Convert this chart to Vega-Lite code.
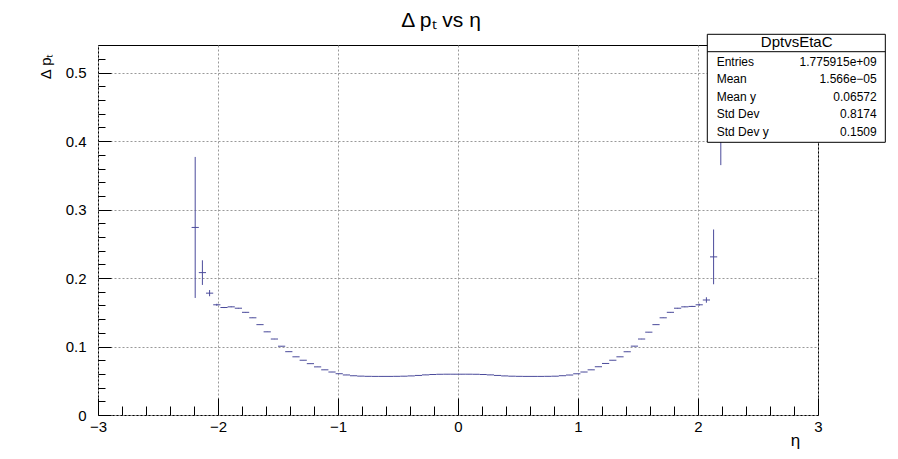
{
  "$schema": "https://vega.github.io/schema/vega-lite/v6.json",
  "width": 720,
  "height": 370,
  "autosize": {"type": "none"},
  "padding": {"left": 98, "top": 45, "right": 80, "bottom": 44},
  "background": "white",
  "title": {"text": "Δ pₜ vs   η", "fontSize": 21, "font": "Liberation Sans", "fontWeight": "normal", "color": "black", "anchor": "middle", "offset": 3, "dx": -17},
  "config": {"view": {"stroke": "black", "strokeWidth": 1}, "font": "Liberation Sans"},
  "datasets": {
    "prof": [
      {"eta": -2.19, "mean": 0.274, "lo": 0.171, "hi": 0.377},
      {"eta": -2.13, "mean": 0.208, "lo": 0.190, "hi": 0.226},
      {"eta": -2.07, "mean": 0.178, "lo": 0.1735, "hi": 0.1825},
      {"eta": -2.01, "mean": 0.161, "lo": 0.1595, "hi": 0.1625},
      {"eta": -1.95, "mean": 0.157, "lo": 0.1562, "hi": 0.1578},
      {"eta": -1.89, "mean": 0.158, "lo": 0.1575, "hi": 0.1585},
      {"eta": -1.83, "mean": 0.156, "lo": 0.1556, "hi": 0.1564},
      {"eta": -1.77, "mean": 0.150, "lo": 0.1497, "hi": 0.1503},
      {"eta": -1.71, "mean": 0.142, "lo": 0.1417, "hi": 0.1423},
      {"eta": -1.65, "mean": 0.132, "lo": 0.1318, "hi": 0.1322},
      {"eta": -1.59, "mean": 0.1215, "lo": 0.1213, "hi": 0.1217},
      {"eta": -1.53, "mean": 0.111, "lo": 0.1108, "hi": 0.1112},
      {"eta": -1.47, "mean": 0.1005, "lo": 0.1003, "hi": 0.1007},
      {"eta": -1.41, "mean": 0.0925, "lo": 0.0923, "hi": 0.0927},
      {"eta": -1.35, "mean": 0.085, "lo": 0.0849, "hi": 0.0851},
      {"eta": -1.29, "mean": 0.080, "lo": 0.0799, "hi": 0.0801},
      {"eta": -1.23, "mean": 0.075, "lo": 0.0749, "hi": 0.0751},
      {"eta": -1.17, "mean": 0.0703, "lo": 0.0702, "hi": 0.0704},
      {"eta": -1.11, "mean": 0.066, "lo": 0.0659, "hi": 0.0661},
      {"eta": -1.05, "mean": 0.0628, "lo": 0.0627, "hi": 0.0629},
      {"eta": -0.99, "mean": 0.0603, "lo": 0.0602, "hi": 0.0604},
      {"eta": -0.93, "mean": 0.0585, "lo": 0.0584, "hi": 0.0586},
      {"eta": -0.87, "mean": 0.0575, "lo": 0.0574, "hi": 0.0576},
      {"eta": -0.81, "mean": 0.0568, "lo": 0.0567, "hi": 0.0569},
      {"eta": -0.75, "mean": 0.0565, "lo": 0.0564, "hi": 0.0566},
      {"eta": -0.69, "mean": 0.0564, "lo": 0.0563, "hi": 0.0565},
      {"eta": -0.63, "mean": 0.0564, "lo": 0.0563, "hi": 0.0565},
      {"eta": -0.57, "mean": 0.0564, "lo": 0.0563, "hi": 0.0565},
      {"eta": -0.51, "mean": 0.0565, "lo": 0.0564, "hi": 0.0566},
      {"eta": -0.45, "mean": 0.0567, "lo": 0.0566, "hi": 0.0568},
      {"eta": -0.39, "mean": 0.0571, "lo": 0.0570, "hi": 0.0572},
      {"eta": -0.33, "mean": 0.0578, "lo": 0.0577, "hi": 0.0579},
      {"eta": -0.27, "mean": 0.0586, "lo": 0.0585, "hi": 0.0587},
      {"eta": -0.21, "mean": 0.0592, "lo": 0.0591, "hi": 0.0593},
      {"eta": -0.15, "mean": 0.0595, "lo": 0.0594, "hi": 0.0596},
      {"eta": -0.09, "mean": 0.0596, "lo": 0.0595, "hi": 0.0597},
      {"eta": -0.03, "mean": 0.0596, "lo": 0.0595, "hi": 0.0597},
      {"eta": 0.03, "mean": 0.0596, "lo": 0.0595, "hi": 0.0597},
      {"eta": 0.09, "mean": 0.0596, "lo": 0.0595, "hi": 0.0597},
      {"eta": 0.15, "mean": 0.0595, "lo": 0.0594, "hi": 0.0596},
      {"eta": 0.21, "mean": 0.0592, "lo": 0.0591, "hi": 0.0593},
      {"eta": 0.27, "mean": 0.0586, "lo": 0.0585, "hi": 0.0587},
      {"eta": 0.33, "mean": 0.0578, "lo": 0.0577, "hi": 0.0579},
      {"eta": 0.39, "mean": 0.0571, "lo": 0.0570, "hi": 0.0572},
      {"eta": 0.45, "mean": 0.0567, "lo": 0.0566, "hi": 0.0568},
      {"eta": 0.51, "mean": 0.0565, "lo": 0.0564, "hi": 0.0566},
      {"eta": 0.57, "mean": 0.0564, "lo": 0.0563, "hi": 0.0565},
      {"eta": 0.63, "mean": 0.0564, "lo": 0.0563, "hi": 0.0565},
      {"eta": 0.69, "mean": 0.0564, "lo": 0.0563, "hi": 0.0565},
      {"eta": 0.75, "mean": 0.0565, "lo": 0.0564, "hi": 0.0566},
      {"eta": 0.81, "mean": 0.0567, "lo": 0.0566, "hi": 0.0568},
      {"eta": 0.87, "mean": 0.0574, "lo": 0.0573, "hi": 0.0575},
      {"eta": 0.93, "mean": 0.0584, "lo": 0.0583, "hi": 0.0585},
      {"eta": 0.99, "mean": 0.0602, "lo": 0.0601, "hi": 0.0603},
      {"eta": 1.05, "mean": 0.0628, "lo": 0.0627, "hi": 0.0629},
      {"eta": 1.11, "mean": 0.066, "lo": 0.0659, "hi": 0.0661},
      {"eta": 1.17, "mean": 0.0705, "lo": 0.0704, "hi": 0.0706},
      {"eta": 1.23, "mean": 0.0753, "lo": 0.0752, "hi": 0.0754},
      {"eta": 1.29, "mean": 0.080, "lo": 0.0799, "hi": 0.0801},
      {"eta": 1.35, "mean": 0.085, "lo": 0.0849, "hi": 0.0851},
      {"eta": 1.41, "mean": 0.0924, "lo": 0.0922, "hi": 0.0926},
      {"eta": 1.47, "mean": 0.1006, "lo": 0.1004, "hi": 0.1008},
      {"eta": 1.53, "mean": 0.111, "lo": 0.1108, "hi": 0.1112},
      {"eta": 1.59, "mean": 0.121, "lo": 0.1208, "hi": 0.1212},
      {"eta": 1.65, "mean": 0.132, "lo": 0.1318, "hi": 0.1322},
      {"eta": 1.71, "mean": 0.142, "lo": 0.1417, "hi": 0.1423},
      {"eta": 1.77, "mean": 0.150, "lo": 0.1497, "hi": 0.1503},
      {"eta": 1.83, "mean": 0.156, "lo": 0.1556, "hi": 0.1564},
      {"eta": 1.89, "mean": 0.158, "lo": 0.1575, "hi": 0.1585},
      {"eta": 1.95, "mean": 0.1586, "lo": 0.1578, "hi": 0.1594},
      {"eta": 2.01, "mean": 0.161, "lo": 0.1595, "hi": 0.1625},
      {"eta": 2.07, "mean": 0.168, "lo": 0.164, "hi": 0.172},
      {"eta": 2.13, "mean": 0.231, "lo": 0.191, "hi": 0.271},
      {"eta": 2.19, "mean": 0.46, "lo": 0.365, "hi": 0.555}
    ],
    "box": [{"name": "DptvsEtaC"}],
    "stats": [
      {"label": "Entries", "value": "1.775915e+09", "row": 5},
      {"label": "Mean", "value": "1.566e−05", "row": 4},
      {"label": "Mean y", "value": "0.06572", "row": 3},
      {"label": "Std Dev", "value": "0.8174", "row": 2},
      {"label": "Std Dev y", "value": "0.1509", "row": 1}
    ]
  },
  "resolve": {"scale": {"y": "independent"}, "axis": {"x": "independent", "y": "independent"}},
  "layer": [
    {
      "data": {"name": "prof"},
      "mark": {"type": "tick", "orient": "horizontal", "size": 7.2, "thickness": 1, "color": "#4b4b9b", "opacity": 1},
      "encoding": {
        "x": {
          "field": "eta", "type": "quantitative",
          "scale": {"domain": [-3, 3], "nice": false, "zero": false},
          "axis": {
            "orient": "bottom",
            "values": [-3, -2, -1, 0, 1, 2, 3],
            "format": "d",
            "title": "η", "titleFontSize": 17, "titleFont": "Liberation Sans", "titleFontWeight": "normal", "titleColor": "black",
            "titleX": 697, "titleY": 25, "titleAlign": "center", "titleBaseline": "middle",
            "labelFont": "Liberation Sans", "labelFontSize": 15, "labelColor": "black", "labelFlush": false, "labelOverlap": false, "labelPadding": 21, "labelBaseline": "top",
            "tickSize": -17, "tickColor": "black", "tickWidth": 1,
            "grid": true, "gridColor": "#999999", "gridDash": [2, 2], "gridWidth": 1,
            "domain": false
          }
        },
        "y": {
          "field": "mean", "type": "quantitative",
          "scale": {"domain": [0, 0.5405], "nice": false, "zero": false},
          "axis": {
            "orient": "left",
            "values": [0, 0.1, 0.2, 0.3, 0.4, 0.5],
            "format": "~g",
            "title": "Δ pₜ", "titleFontSize": 15, "titleFont": "Liberation Sans", "titleFontWeight": "normal", "titleColor": "black",
            "titleAngle": -90, "titleX": -53, "titleY": 8, "titleAlign": "right", "titleBaseline": "middle",
            "labelFont": "Liberation Sans", "labelFontSize": 15, "labelColor": "black", "labelOverlap": false, "labelFlush": false, "labelPadding": 25,
            "tickSize": -13, "tickColor": "black", "tickWidth": 1,
            "grid": true, "gridColor": "#999999", "gridDash": [2, 2], "gridWidth": 1,
            "domain": false
          }
        }
      }
    },
    {
      "data": {"name": "prof"},
      "mark": {"type": "rule", "color": "#4b4b9b", "strokeWidth": 1},
      "encoding": {
        "x": {
          "field": "eta", "type": "quantitative",
          "scale": {"domain": [-3, 3], "nice": false, "zero": false},
          "axis": {
            "orient": "bottom",
            "values": [-2.8, -2.6, -2.4, -2.2, -1.8, -1.6, -1.4, -1.2, -0.8, -0.6, -0.4, -0.2, 0.2, 0.4, 0.6, 0.8, 1.2, 1.4, 1.6, 1.8, 2.2, 2.4, 2.6, 2.8],
            "title": null, "labels": false, "grid": false, "domain": false,
            "tickSize": -9, "tickColor": "black", "tickWidth": 1
          }
        },
        "y": {
          "field": "lo", "type": "quantitative",
          "scale": {"domain": [0, 0.5405], "nice": false, "zero": false},
          "axis": {
            "orient": "left",
            "values": [0.02, 0.04, 0.06, 0.08, 0.12, 0.14, 0.16, 0.18, 0.22, 0.24, 0.26, 0.28, 0.32, 0.34, 0.36, 0.38, 0.42, 0.44, 0.46, 0.48, 0.52, 0.54],
            "title": null, "labels": false, "grid": false, "domain": false,
            "tickSize": -7, "tickColor": "black", "tickWidth": 1
          }
        },
        "y2": {"field": "hi"}
      }
    },
    {
      "data": {"name": "box"},
      "mark": {"type": "rect", "fill": "white", "stroke": "black", "strokeWidth": 1},
      "encoding": {
        "x": {"datum": 2.0775, "type": "quantitative", "scale": {"domain": [-3, 3], "nice": false, "zero": false}, "axis": null},
        "x2": {"datum": 3.561},
        "y": {"datum": 6.565, "type": "quantitative", "scale": {"domain": [-15.189, 5.954], "nice": false, "zero": false}, "axis": null},
        "y2": {"datum": 0.394}
      }
    },
    {
      "data": {"name": "box"},
      "mark": {"type": "rule", "color": "black", "strokeWidth": 1},
      "encoding": {
        "x": {"datum": 2.0775, "type": "quantitative", "scale": {"domain": [-3, 3], "nice": false, "zero": false}, "axis": null},
        "x2": {"datum": 3.561},
        "y": {"datum": 5.571, "type": "quantitative", "scale": {"domain": [-15.189, 5.954], "nice": false, "zero": false}, "axis": null}
      }
    },
    {
      "data": {"name": "box"},
      "mark": {"type": "text", "align": "center", "baseline": "middle", "fontSize": 15, "font": "Liberation Sans", "color": "black"},
      "encoding": {
        "x": {"datum": 2.8225, "type": "quantitative", "scale": {"domain": [-3, 3], "nice": false, "zero": false}, "axis": null},
        "y": {"datum": 6.108, "type": "quantitative", "scale": {"domain": [-15.189, 5.954], "nice": false, "zero": false}, "axis": null},
        "text": {"field": "name"}
      }
    },
    {
      "data": {"name": "stats"},
      "mark": {"type": "text", "align": "left", "baseline": "middle", "fontSize": 12, "font": "Liberation Sans", "color": "black"},
      "encoding": {
        "x": {"datum": 2.1558, "type": "quantitative", "scale": {"domain": [-3, 3], "nice": false, "zero": false}, "axis": null},
        "y": {"field": "row", "type": "quantitative", "scale": {"domain": [-15.189, 5.954], "nice": false, "zero": false}, "axis": null},
        "text": {"field": "label"}
      }
    },
    {
      "data": {"name": "stats"},
      "mark": {"type": "text", "align": "right", "baseline": "middle", "fontSize": 12, "font": "Liberation Sans", "color": "black"},
      "encoding": {
        "x": {"datum": 3.489, "type": "quantitative", "scale": {"domain": [-3, 3], "nice": false, "zero": false}, "axis": null},
        "y": {"field": "row", "type": "quantitative", "scale": {"domain": [-15.189, 5.954], "nice": false, "zero": false}, "axis": null},
        "text": {"field": "value"}
      }
    }
  ]
}
